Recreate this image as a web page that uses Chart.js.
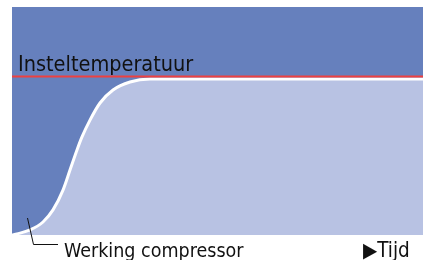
<!DOCTYPE html>
<html>
<head>
<meta charset="utf-8">
<script src="https://cdn.jsdelivr.net/npm/chart.js@4"></script>
<style>
  html, body { margin: 0; padding: 0; background: #fff; }
  #wrap { width: 423px; height: 260px; }
</style>
</head>
<body>
<div id="wrap"><canvas id="tempChart"></canvas></div>
<script>
// time (arbitrary units) and room temperature (% of scale)
var tijd = [0, 5, 18, 31, 41, 51, 58, 65, 70, 78, 88, 101, 118, 138, 158, 411];
var temperatuur = [0, 0.5, 2.2, 5.7, 11, 19.7, 28.5, 37.3, 43, 50.4, 57.9, 63.6, 67.1, 68.4, 68.4, 68.4];
var insteltemperatuur = 69.5;
var setLabel = "Insteltemperatuur";
var compressorLabel = "Werking compressor";
var timeLabel = "\u25B6Tijd";

var curve = tijd.map(function (t, i) { return { x: t, y: temperatuur[i] }; });
var setLine = [{ x: 0, y: insteltemperatuur }, { x: 411, y: insteltemperatuur }];

var font = '"Liberation Sans Narrow", "DejaVu Sans Condensed", sans-serif';

var background = {
    id: "background",
    beforeDraw: function (chart) {
        var a = chart.chartArea, ctx = chart.ctx;
        ctx.save();
        ctx.fillStyle = "#6680bd";
        ctx.fillRect(a.left, a.top, a.right - a.left, a.bottom - a.top);
        ctx.restore();
    }
};

var labels = {
    id: "labels",
    afterDraw: function (chart) {
        var ctx = chart.ctx;
        var ys = chart.scales.y;
        ctx.save();
        ctx.fillStyle = "#111";
        ctx.font = "21.5px " + font;
        ctx.textBaseline = "alphabetic";
        ctx.fillText(setLabel, 18, ys.getPixelForValue(insteltemperatuur) - 5.5);

        // leader line to the start of the curve
        ctx.strokeStyle = "#111";
        ctx.lineWidth = 1;
        ctx.beginPath();
        ctx.moveTo(27.5, 218);
        ctx.lineTo(33.5, 244.5);
        ctx.lineTo(58, 244.5);
        ctx.stroke();

        ctx.font = "19.5px " + font;
        ctx.fillText(compressorLabel, 64, 256.5);
        ctx.font = "20.5px " + font;
        ctx.fillText(timeLabel, 363, 256.5);
        ctx.restore();
    }
};

new Chart("tempChart", {
    type: "line",
    data: {
        datasets: [{
            data: setLine,
            borderColor: "#ee4040",
            borderWidth: 2,
            pointRadius: 0,
            fill: false
        }, {
            data: curve,
            borderColor: "#ffffff",
            borderWidth: 3,
            backgroundColor: "#b8c2e3",
            pointRadius: 0,
            fill: "origin",
            cubicInterpolationMode: "monotone"
        }]
    },
    options: {
        animation: false,
        responsive: true,
        maintainAspectRatio: false,
        layout: {
            padding: { left: 12, top: 7, right: 0, bottom: 25 }
        },
        plugins: {
            legend: { display: false },
            tooltip: { enabled: false }
        },
        scales: {
            x: { type: "linear", min: 0, max: 411, display: false },
            y: { min: 0, max: 100, display: false }
        }
    },
    plugins: [background, labels]
});
</script>
</body>
</html>
